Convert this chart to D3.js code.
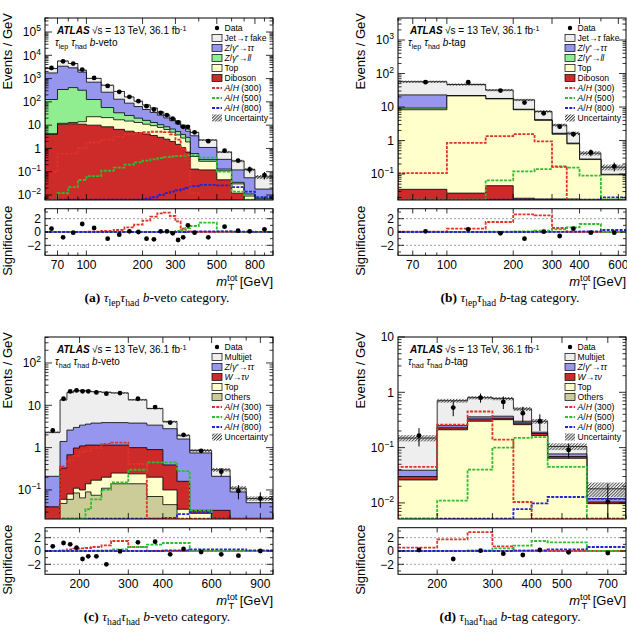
<!DOCTYPE html>
<html><head><meta charset="utf-8">
<script src="https://cdn.jsdelivr.net/npm/d3@7"></script>
<style>
body{margin:0;background:#fff}
svg{display:block}
text{font-family:"Liberation Sans",Arial,Helvetica,sans-serif;fill:#000}
</style></head>
<body><svg id="c" width="627" height="632"></svg>
<script>
// ---------------- DATA ----------------
// (a) tau_lep tau_had b-veto
const aEdges = [60,70,80,90,100,120,140,160,180,200,220,240,260,280,300,320,340,360,400,500,600,700,800,1000];
const aData = [2860,5530,4400,2430,1070,485,270,164,107,65,47,34,27,19,13,8.5,8.5,4.9,2.06,0.8,0.3,0.126,0.072];
const aDataErr = [40,60,50,35,15,8,6,4.5,3.5,2.6,2.2,1.8,1.6,1.4,1.1,0.9,0.9,0.5,0.2,0.1,0.06,0.04,0.025];
const aDiboson = [4.0,11,11.5,11,10,8.5,6.6,5.5,4.8,4.2,3.6,3.0,2.5,2.0,1.5,1.1,0.7,0.13,0.12,0.045,0.012,0.006,0.005];
const aTop = [0.3,1.0,1.5,3.0,13,12.5,10.4,9.5,8.2,6.8,5.9,5.0,4.0,3.0,2.3,1.7,1.2,0.32,0.16,0.065,0.018,0.003,0.001];
const aZll = [122,328,397,302,103,36,17,11,7,5,3.5,2.5,2.0,1.8,1.5,1.2,1.1,0.15,0.05,0.02,0.005,0.002,0.001];
const aZtt = [1624,3060,2490,1584,574,203,96,62,43,31,22,16.5,12,8.7,6.2,4.0,2.5,2.9,0.77,0.21,0.085,0.044,0.011];
const aFake = [950,2300,1550,400,320,260,150,75,44,26,19,10,6.5,4.0,3.5,2.0,1.3,1.4,1.2,0.36,0.17,0.07,0.042];
const aUnc = [0.06,0.05,0.05,0.05,0.05,0.05,0.05,0.05,0.05,0.05,0.05,0.05,0.05,0.05,0.06,0.06,0.06,0.07,0.08,0.1,0.12,0.15,0.2];
const aH300 = [0.1,0.6,0.6,1.0,1.8,2.4,3.2,4.0,4.6,5.0,5.2,5.2,5.0,4.0,2.4,1.0,0.35,0.012,0.002,0.001,0.001,0.001,0.001];
const aH500 = [0.0063,0.012,0.022,0.044,0.065,0.11,0.15,0.2,0.25,0.3,0.34,0.38,0.42,0.45,0.47,0.48,0.5,0.5,0.4,0.1,0.014,0.0063,0.0063];
const aH800 = [0.0063,0.0063,0.0063,0.0063,0.0063,0.0063,0.0063,0.0063,0.0065,0.007,0.008,0.01,0.012,0.014,0.016,0.018,0.02,0.024,0.027,0.026,0.022,0.014,0.008];
const aSigData = [0.5,-0.8,-0.1,1.2,0.6,-1.0,-0.4,0.1,0.0,-1.0,-1.1,0.1,0.1,-0.2,-1.2,-0.8,1.0,-0.1,-0.8,0.8,0.2,0.1,0.4];
const aSig300 = [0,0,0,0,0.05,0.15,0.3,0.7,1.1,1.7,2.3,2.8,2.9,2.4,1.6,0.5,0.1,0,0,0,0,0,0];
const aSig500 = [0,0,0,0,0,0,0,0,0,0,0,0,0,0.05,0.15,0.3,0.6,0.9,1.4,0.1,0,0,0];
const aSig800 = [0,0,0,0,0,0,0,0,0,0,0,0,0,0,0,0,0.03,0.05,0.08,0.08,0.06,0.04,0.03];
const aXLabels = [70,100,200,300,500,800];
const aYLabels = [1e-2,1e-1,1,10,1e2,1e3,1e4,1e5];

// (b) tau_lep tau_had b-tag
const bEdges = [60,100,150,200,250,300,350,400,500,650];
const bData = [55,55,31,13.6,6.5,2.6,1.55,0.44,0.17];
const bDataErr = [4,3,2,0.9,0.6,0.35,0.28,0.1,0.05];
const bDiboson = [0.035,0.027,0.045,0.019,0.018,0.018,0.018,0.0175,0.0175];
const bTop = [8.27,21.47,17.46,8.28,3.98,1.53,0.78,0.253,0.077];
const bZll = [1.0,0.1,0.1,0.05,0.02,0.01,0.01,0.002,0.001];
const bZtt = [13.7,0.4,0.4,0.25,0.18,0.09,0.03,0.008,0.003];
const bFake = [34,25,14,7.7,3.2,1.25,0.81,0.14,0.062];
const bUnc = [0.08,0.08,0.08,0.08,0.09,0.1,0.12,0.15,0.2];
const bH300 = [0.107,0.85,1.35,1.55,0.95,0.17,0.017,0.017,0.017];
const bH500 = [0.0172,0.0172,0.065,0.12,0.14,0.16,0.155,0.09,0.0175];
const bH800 = [0.0172,0.0172,0.0172,0.0172,0.0172,0.0172,0.0172,0.0172,0.02];
const bSigData = [0.1,0.4,-0.2,-1.0,0.05,-0.6,0.5,-0.1,-0.1];
const bSig300 = [0.05,0.5,1.5,2.65,2.5,0.6,0,0,0];
const bSig500 = [0,0,0.05,0.1,0.2,0.4,0.7,1.2,0];
const bSig800 = [0,0,0,0,0.02,0.03,0.05,0.1,0.3];
const bXLabels = [70,100,200,300,400,600];
const bYLabels = [1e-1,1,10,1e2,1e3];

// (c) tau_had tau_had b-veto
const cEdges = [150,170,180,190,200,210,220,240,260,300,350,400,450,500,600,700,800,1000];
const cData = [2.55,14.3,21.4,22.5,21.4,21.4,20.2,18.8,19.5,14.3,9.1,3.9,2.0,0.84,0.27,0.095,0.063];
const cDataErr = [0.3,0.9,1.1,1.1,1.1,1.1,0.8,0.8,0.55,0.45,0.35,0.22,0.16,0.09,0.06,0.035,0.025];
const cOthers = [0.015,0.048,0.06,0.085,0.065,0.09,0.075,0.11,0.14,0.14,0.07,0.045,0.02,0.012,0.006,0.004,0.003];
const cTop = [0.005,0.012,0.02,0.025,0.035,0.05,0.095,0.09,0.11,0.10,0.13,0.055,0.015,0.016,0.006,0.006,0.005];
const cW = [0.02,0.27,0.60,0.87,1.0,1.01,0.98,0.95,0.90,0.76,0.70,0.29,0.125,0.005,0.021,0.005,0.004];
const cZtt = [0.17,1.07,1.92,2.02,2.3,2.45,2.65,2.75,2.75,2.8,2.5,2.41,1.44,0.717,0.177,0.075,0.038];
const cMultijet = [2.09,12.1,17.4,19,19.1,18.4,17.2,16.4,15.7,9.7,5.0,1.3,0.35,0.11,0.09,0.02,0.013];
const cUnc = [0.05,0.04,0.04,0.04,0.04,0.04,0.04,0.04,0.04,0.05,0.05,0.06,0.07,0.08,0.1,0.12,0.12];
const cH300 = [0.021,0.36,0.5,0.64,0.8,0.85,0.97,1.23,1.31,0.41,0.021,0.021,0.021,0.021,0.021,0.021,0.021];
const cH500 = [0.021,0.021,0.021,0.021,0.021,0.035,0.06,0.1,0.15,0.3,0.45,0.45,0.28,0.033,0.021,0.021,0.021];
const cH800 = [0.021,0.021,0.021,0.021,0.021,0.021,0.021,0.021,0.021,0.021,0.021,0.022,0.027,0.03,0.022,0.021,0.021];
const cSigData = [0.7,1.2,1.0,0.5,-1.2,-0.8,-0.8,-2.0,-0.05,1.3,1.4,-0.5,0.3,-0.15,-0.5,-0.7,0.0];
const cSig300 = [0,0.1,0.25,0.35,0.4,0.45,0.6,0.85,1.5,0.6,0,0,0,0,0,0,0];
const cSig500 = [0,0,0,0,0,0,0.05,0.1,0.25,0.6,0.95,1.2,1.2,0,0,0,0];
const cSig800 = [0,0,0,0,0,0,0,0,0,0,0,0.1,0.1,0.25,0.25,0.25,0.1];
const cXLabels = [200,300,400,600,900];
const cYLabels = [1e-1,1,10,1e2];

// (d) tau_had tau_had b-tag
const dEdges = [150,200,250,300,350,400,450,600,800];
const dData = [0.165,0.53,0.8,0.67,0.42,0.3,0.091,0.0104];
const dDataErr = [0.06,0.16,0.15,0.17,0.13,0.1,0.027,0.012];
const dOthers = [0.002,0.004,0.005,0.005,0.004,0.003,0.002,0.001];
const dTop = [0.024,0.206,0.295,0.315,0.256,0.162,0.062,0.0087];
const dW = [0.004,0.018,0.03,0.02,0.02,0.015,0.005,0.0007];
const dZtt = [0.009,0.022,0.03,0.03,0.02,0.01,0.008,0.0016];
const dMultijet = [0.11,0.455,0.44,0.40,0.20,0.11,0.028,0.006];
const dUnc = [0.13,0.08,0.07,0.07,0.08,0.1,0.14,0.3];
const dH300 = [0.045,0.26,0.45,0.14,0.0104,0.0052,0.0052,0.0052];
const dH500 = [0.0052,0.011,0.04,0.1,0.15,0.155,0.045,0.0052];
const dH800 = [0.0052,0.0052,0.0052,0.0052,0.0077,0.0098,0.0128,0.0118];
const dSigData = [0.15,-1.2,0.05,-0.4,-0.6,0.15,-0.2,-0.3];
const dSig300 = [0.5,1.75,2.85,0.7,0.05,0,0,0];
const dSig500 = [0,0,0.1,0.4,0.8,1.5,1.3,0];
const dSig800 = [0,0,0,0,0.05,0.1,0.25,0.6];
const dXLabels = [200,300,400,500,700];
const dYLabels = [1e-2,1e-1,1,10];

// ---------------- STYLE ----------------
const colFake = "#eeeeee", colZtt = "#9696ee", colZll = "#90ee90", colTop = "#ffffcc",
      colRed = "#cd2a2a", colOthers = "#cccc99";
const colS300 = "#e03228", colS500 = "#2ebd2e", colS800 = "#2424cc";

const svg = d3.select("#c");
const defs = svg.append("defs");
const pat = defs.append("pattern").attr("id","hatch").attr("patternUnits","userSpaceOnUse")
  .attr("width",2.2).attr("height",2.2).attr("patternTransform","rotate(45)");
pat.append("line").attr("x1",0.5).attr("y1",0).attr("x2",0.5).attr("y2",2.2)
  .attr("stroke","#222").attr("stroke-width",0.9);

function rich(sel, segs, size, supRaise) {
  let cur = 0;
  const sr = supRaise === undefined ? 0.42 : supRaise;
  segs.forEach(s => {
    const k = (typeof s === "string") ? {t:s} : s;
    const ts = sel.append("tspan").text(k.t);
    let off = 0, fs = size;
    if (k.sub) { off = size*0.3; fs = size*0.72; }
    if (k.sup) { off = -size*sr; fs = size*0.72; }
    ts.attr("font-size", fs);
    if (off !== cur) { ts.attr("dy", off - cur); cur = off; }
    if (k.i) ts.attr("font-style","italic");
    if (k.b) ts.attr("font-weight","bold");
    if (k.dx) ts.attr("dx", k.dx);
  });
}

const legLep = [
  ["Data"], ["Jet→", {t:"τ",i:1}, " fake"],
  [{t:"Z",i:1},"/",{t:"γ",i:1},{t:"*",sup:1},"→",{t:"ττ",i:1}],
  [{t:"Z",i:1},"/",{t:"γ",i:1},{t:"*",sup:1},"→",{t:"ll",i:1}],
  ["Top"], ["Diboson"],
  [{t:"A",i:1},"/",{t:"H",i:1}," (300)"], [{t:"A",i:1},"/",{t:"H",i:1}," (500)"],
  [{t:"A",i:1},"/",{t:"H",i:1}," (800)"], ["Uncertainty"]
];
const legHad = [
  ["Data"], ["Multijet"],
  [{t:"Z",i:1},"/",{t:"γ",i:1},{t:"*",sup:1},"→",{t:"ττ",i:1}],
  [{t:"W",i:1},"→",{t:"τν",i:1}],
  ["Top"], ["Others"],
  [{t:"A",i:1},"/",{t:"H",i:1}," (300)"], [{t:"A",i:1},"/",{t:"H",i:1}," (500)"],
  [{t:"A",i:1},"/",{t:"H",i:1}," (800)"], ["Uncertainty"]
];

function drawPanel(P) {
  const n = P.edges.length - 1;
  const x = d3.scaleLog().domain(P.xDomain).range([P.x0, P.x1]);
  const y = d3.scaleLog().domain(P.yDomain).range([P.yBot, P.yTop]);
  const r = d3.scaleLinear().domain([-3.5, 3.5]).range([P.rBot, P.rTop]);
  const ymin = P.yDomain[0];
  const yc = v => y(Math.max(v, ymin * 0.8));
  defs.append("clipPath").attr("id","cm"+P.id).append("rect")
    .attr("x",P.x0).attr("y",P.yTop).attr("width",P.x1-P.x0).attr("height",P.yBot-P.yTop);
  defs.append("clipPath").attr("id","cr"+P.id).append("rect")
    .attr("x",P.x0).attr("y",P.rTop).attr("width",P.x1-P.x0).attr("height",P.rBot-P.rTop);
  const gm = svg.append("g").attr("clip-path",`url(#cm${P.id})`);
  const stepPts = (vals, lo) => {
    const pts = [];
    if (lo !== undefined) pts.push([P.edges[0], lo]);
    vals.forEach((v,i) => { pts.push([P.edges[i], v]); pts.push([P.edges[i+1], v]); });
    if (lo !== undefined) pts.push([P.edges[n], lo]);
    return pts;
  };
  const lineM = d3.line().x(d => x(d[0])).y(d => yc(d[1]));
  let cum = new Array(n).fill(0);
  const cums = P.stack.map(s => { cum = cum.map((c,i) => c + s.vals[i]); return cum.slice(); });
  for (let k = P.stack.length - 1; k >= 0; k--) {
    gm.append("path").attr("d", lineM(stepPts(cums[k], ymin*0.5)) + "Z")
      .attr("fill", P.stack[k].color).attr("stroke","#000").attr("stroke-width",0.8);
  }
  const total = cums[cums.length-1];
  gm.selectAll(null).data(total).join("rect")
    .attr("x",(d,i)=>x(P.edges[i])).attr("width",(d,i)=>x(P.edges[i+1])-x(P.edges[i]))
    .attr("y",(d,i)=>yc(d*(1+P.unc[i]))).attr("height",(d,i)=>yc(d*(1-P.unc[i]))-yc(d*(1+P.unc[i])))
    .attr("fill","url(#hatch)").attr("opacity",0.85);
  P.sigs.forEach(s => {
    gm.append("path").attr("d", lineM(stepPts(s.vals, ymin*0.5))).attr("fill","none")
      .attr("stroke", s.color).attr("stroke-width",1.8).attr("stroke-dasharray","3,1.3");
  });
  const cen = i => (P.edges[i] + P.edges[i+1]) / 2;
  P.data.forEach((v,i) => {
    const e = P.dataErr[i];
    gm.append("line").attr("x1",x(cen(i))).attr("x2",x(cen(i)))
      .attr("y1",yc(v+e)).attr("y2",yc(v-e)).attr("stroke","#000").attr("stroke-width",1);
    gm.append("circle").attr("cx",x(cen(i))).attr("cy",y(v)).attr("r",2.4).attr("fill","#000");
  });
  svg.append("rect").attr("x",P.x0).attr("y",P.yTop).attr("width",P.x1-P.x0).attr("height",P.yBot-P.yTop)
    .attr("fill","none").attr("stroke","#000").attr("stroke-width",1);
  // ratio panel
  const gr = svg.append("g").attr("clip-path",`url(#cr${P.id})`);
  [-2,2].forEach(v => gr.append("line").attr("x1",P.x0).attr("x2",P.x1).attr("y1",r(v)).attr("y2",r(v))
    .attr("stroke","#888").attr("stroke-width",0.8).attr("stroke-dasharray","2,2"));
  gr.append("line").attr("x1",P.x0).attr("x2",P.x1).attr("y1",r(0)).attr("y2",r(0)).attr("stroke","#000").attr("stroke-width",0.8);
  const lineR = d3.line().x(d => x(d[0])).y(d => r(d[1]));
  P.sigR.forEach(s => {
    gr.append("path").attr("d", lineR(stepPts(s.vals))).attr("fill","none")
      .attr("stroke", s.color).attr("stroke-width",1.8).attr("stroke-dasharray","3,1.3");
  });
  P.sigData.forEach((v,i) => {
    gr.append("circle").attr("cx",x(cen(i))).attr("cy",r(v)).attr("r",2.4).attr("fill","#000");
  });
  svg.append("rect").attr("x",P.x0).attr("y",P.rTop).attr("width",P.x1-P.x0).attr("height",P.rBot-P.rTop)
    .attr("fill","none").attr("stroke","#000").attr("stroke-width",1);
  // x ticks
  const ticks = [];
  for (let dec = 10; dec <= 1000; dec *= 10)
    for (let m = 1; m <= 9; m++) { const v = m*dec; if (v >= P.xDomain[0] && v <= P.xDomain[1]) ticks.push(v); }
  const tk = svg.append("g").attr("stroke","#000").attr("stroke-width",0.8);
  ticks.forEach(v => {
    const L = (P.xLabels.includes(v) || v===100 || v===1000) ? 6 : 3.5;
    const xx = x(v);
    [[P.yBot,-L],[P.yTop,L],[P.rBot,-L*0.8],[P.rTop,L*0.8]].forEach(([yy,d]) =>
      tk.append("line").attr("x1",xx).attr("x2",xx).attr("y1",yy).attr("y2",yy+d));
  });
  P.xLabels.forEach(v => {
    svg.append("text").attr("x",x(v)).attr("y",P.rBot+14).attr("text-anchor","middle")
      .attr("font-size",12).text(v);
  });
  const e0 = Math.floor(Math.log10(P.yDomain[0])), e1 = Math.ceil(Math.log10(P.yDomain[1]));
  for (let e = e0; e <= e1; e++) for (let m = 1; m <= 9; m++) {
    const v = m * Math.pow(10, e);
    if (v < P.yDomain[0] || v > P.yDomain[1]) continue;
    const L = m === 1 ? 7 : 3.5, yy = y(v);
    tk.append("line").attr("x1",P.x0).attr("x2",P.x0+L).attr("y1",yy).attr("y2",yy);
    tk.append("line").attr("x1",P.x1).attr("x2",P.x1-L).attr("y1",yy).attr("y2",yy);
  }
  P.yLabels.forEach(v => {
    const e = Math.round(Math.log10(v));
    const t = svg.append("text").attr("x",P.x0-4).attr("y",y(v)+4.3).attr("text-anchor","end").attr("font-size",12);
    if (e === 0) t.text("1"); else if (e === 1) t.text("10");
    else rich(t, ["10", {t:(e<0?"−":"")+Math.abs(e), sup:1}], 12);
  });
  for (let v = -3; v <= 3; v += 1) {
    const L = (v % 2 === 0) ? 6 : 3;
    tk.append("line").attr("x1",P.x0).attr("x2",P.x0+L).attr("y1",r(v)).attr("y2",r(v));
    tk.append("line").attr("x1",P.x1).attr("x2",P.x1-L).attr("y1",r(v)).attr("y2",r(v));
  }
  [-2,0,2].forEach(v => svg.append("text").attr("x",P.x0-4).attr("y",r(v)+4.3).attr("text-anchor","end")
    .attr("font-size",12).text(v < 0 ? "−2" : String(v)));
  svg.append("text").attr("transform",`translate(${P.x0-33},${P.yTop-5}) rotate(-90)`)
    .attr("text-anchor","end").attr("font-size",13).text("Events / GeV");
  svg.append("text").attr("transform",`translate(${P.x0-33},${P.rTop-3}) rotate(-90)`)
    .attr("text-anchor","end").attr("font-size",13).text("Significance");
  const xt = svg.append("text").attr("x",P.x1).attr("y",P.rBot+31).attr("text-anchor","end").attr("font-size",13);
  rich(xt, [{t:"m",i:1},{t:"tot",sup:1},{t:"T",sub:1,dx:-9},{t:" [GeV]",dx:2}], 13);
  const at = svg.append("text").attr("x",P.x0+12).attr("y",P.yTop+16).attr("font-size",10);
  at.append("tspan").attr("font-weight","bold").attr("font-style","italic").text("ATLAS");
  const at2 = svg.append("text").attr("x",P.x0+47).attr("y",P.yTop+16).attr("font-size",10);
  rich(at2, ["√s = 13 TeV, 36.1 fb", {t:"-1",sup:1}], 10, 0.35);
  const ch = svg.append("text").attr("x",P.x0+10).attr("y",P.yTop+28).attr("font-size",10);
  rich(ch, P.chan, 10);
  // legend
  const lx = P.x0 + 167, ly = P.yTop + 10;
  P.legend.forEach((lab, i) => {
    const cy = ly + i*10;
    const it = P.legItems[i];
    if (it.type === "data") svg.append("circle").attr("cx",lx+5).attr("cy",cy).attr("r",2.2).attr("fill","#000");
    else if (it.type === "box") svg.append("rect").attr("x",lx).attr("y",cy-3.5).attr("width",10).attr("height",7)
      .attr("fill",it.color).attr("stroke","#000").attr("stroke-width",0.7);
    else if (it.type === "line") svg.append("line").attr("x1",lx).attr("x2",lx+10).attr("y1",cy).attr("y2",cy)
      .attr("stroke",it.color).attr("stroke-width",1.8).attr("stroke-dasharray","3,1.3");
    else svg.append("rect").attr("x",lx).attr("y",cy-3.5).attr("width",10).attr("height",7).attr("fill","url(#hatch)");
    const t = svg.append("text").attr("x",lx+12.5).attr("y",cy+3.2).attr("font-size",8.6);
    rich(t, lab, 8.6, 0.25);
  });
  const cap = svg.append("text").attr("x",P.x0+112).attr("y",P.rBot+47).attr("text-anchor","middle")
    .attr("font-size",13.5).style("font-family","'Liberation Serif','Times New Roman',serif");
  rich(cap, P.caption, 13.5);
}

const itemsLep = [{type:"data"},{type:"box",color:colFake},{type:"box",color:colZtt},{type:"box",color:colZll},
  {type:"box",color:colTop},{type:"box",color:colRed},{type:"line",color:colS300},{type:"line",color:colS500},
  {type:"line",color:colS800},{type:"hatch"}];
const itemsHad = [{type:"data"},{type:"box",color:colFake},{type:"box",color:colZtt},{type:"box",color:colRed},
  {type:"box",color:colTop},{type:"box",color:colOthers},{type:"line",color:colS300},{type:"line",color:colS500},
  {type:"line",color:colS800},{type:"hatch"}];

const chanLep = (cat) => [{t:"τ",i:1},{t:"lep",sub:1}," ",{t:"τ",i:1},{t:"had",sub:1}," ",{t:"b",i:1},cat];
const chanHad = (cat) => [{t:"τ",i:1},{t:"had",sub:1}," ",{t:"τ",i:1},{t:"had",sub:1}," ",{t:"b",i:1},cat];
const capLep = (l, cat) => [{t:l,b:1}," ",{t:"τ",i:1},{t:"lep",sub:1},{t:"τ",i:1},{t:"had",sub:1}," ",{t:"b",i:1},cat];
const capHad = (l, cat) => [{t:l,b:1}," ",{t:"τ",i:1},{t:"had",sub:1},{t:"τ",i:1},{t:"had",sub:1}," ",{t:"b",i:1},cat];

drawPanel({id:"a", edges:aEdges, x0:45, x1:273, xDomain:[60,1000], yTop:18, yBot:200, yDomain:[0.0061,4e5],
  rTop:208.7, rBot:255.3,
  stack:[{vals:aDiboson,color:colRed},{vals:aTop,color:colTop},{vals:aZll,color:colZll},{vals:aZtt,color:colZtt},{vals:aFake,color:colFake}],
  unc:aUnc, data:aData, dataErr:aDataErr,
  sigs:[{vals:aH800,color:colS800},{vals:aH500,color:colS500},{vals:aH300,color:colS300}],
  sigR:[{vals:aSig300,color:colS300},{vals:aSig500,color:colS500},{vals:aSig800,color:colS800}],
  sigData:aSigData, xLabels:aXLabels, yLabels:aYLabels, chan:chanLep("-veto"),
  legend:legLep, legItems:itemsLep, caption:capLep("(a)","-veto category.")});

drawPanel({id:"b", edges:bEdges, x0:398, x1:626, xDomain:[60,650], yTop:18, yBot:200, yDomain:[0.0168,4540],
  rTop:208.7, rBot:255.3,
  stack:[{vals:bDiboson,color:colRed},{vals:bTop,color:colTop},{vals:bZll,color:colZll},{vals:bZtt,color:colZtt},{vals:bFake,color:colFake}],
  unc:bUnc, data:bData, dataErr:bDataErr,
  sigs:[{vals:bH800,color:colS800},{vals:bH500,color:colS500},{vals:bH300,color:colS300}],
  sigR:[{vals:bSig300,color:colS300},{vals:bSig500,color:colS500},{vals:bSig800,color:colS800}],
  sigData:bSigData, xLabels:bXLabels, yLabels:bYLabels, chan:chanLep("-tag"),
  legend:legLep, legItems:itemsLep, caption:capLep("(b)","-tag category.")});

drawPanel({id:"c", edges:cEdges, x0:45, x1:273, xDomain:[150,1000], yTop:337, yBot:519, yDomain:[0.0206,411],
  rTop:527.7, rBot:574.3,
  stack:[{vals:cOthers,color:colOthers},{vals:cTop,color:colTop},{vals:cW,color:colRed},{vals:cZtt,color:colZtt},{vals:cMultijet,color:colFake}],
  unc:cUnc, data:cData, dataErr:cDataErr,
  sigs:[{vals:cH800,color:colS800},{vals:cH500,color:colS500},{vals:cH300,color:colS300}],
  sigR:[{vals:cSig300,color:colS300},{vals:cSig500,color:colS500},{vals:cSig800,color:colS800}],
  sigData:cSigData, xLabels:cXLabels, yLabels:cYLabels, chan:chanHad("-veto"),
  legend:legHad, legItems:itemsHad, caption:capHad("(c)","-veto category.")});

drawPanel({id:"d", edges:dEdges, x0:398, x1:626, xDomain:[150,800], yTop:337, yBot:519, yDomain:[0.00512,10],
  rTop:527.7, rBot:574.3,
  stack:[{vals:dOthers,color:colOthers},{vals:dTop,color:colTop},{vals:dW,color:colRed},{vals:dZtt,color:colZtt},{vals:dMultijet,color:colFake}],
  unc:dUnc, data:dData, dataErr:dDataErr,
  sigs:[{vals:dH800,color:colS800},{vals:dH500,color:colS500},{vals:dH300,color:colS300}],
  sigR:[{vals:dSig300,color:colS300},{vals:dSig500,color:colS500},{vals:dSig800,color:colS800}],
  sigData:dSigData, xLabels:dXLabels, yLabels:dYLabels, chan:chanHad("-tag"),
  legend:legHad, legItems:itemsHad, caption:capHad("(d)","-tag category.")});
</script></body></html>
